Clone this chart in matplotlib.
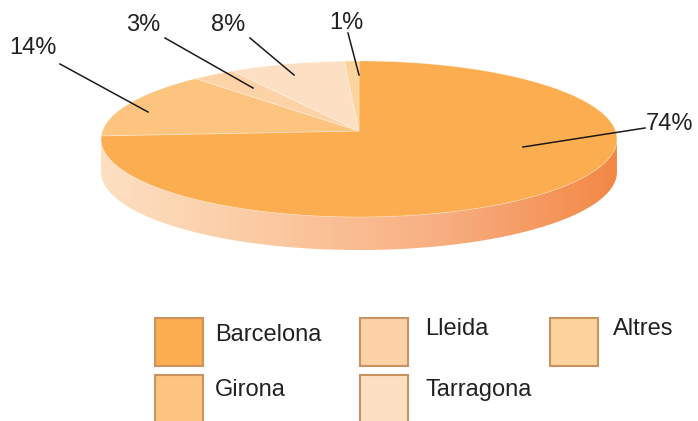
import numpy as np
import matplotlib
matplotlib.use("Agg")
import matplotlib.pyplot as plt
from matplotlib.patches import Polygon, Rectangle
from matplotlib.colors import LinearSegmentedColormap

# data
categories = ["Barcelona", "Girona", "Lleida", "Tarragona", "Altres"]
shares = [74, 14, 3, 8, 1]
labels = ["74%", "14%", "3%", "8%", "1%"]
colors = ["#fbad50", "#fcc47e", "#fdd2a6", "#fde0c3", "#fdd49b"]

plt.rcParams["font.family"] = ["Liberation Sans", "DejaVu Sans"]

fig = plt.figure(figsize=(6.98, 4.21), dpi=100)
ax = fig.add_axes([0, 0, 1, 1])
ax.set_xlim(0, 698)
ax.set_ylim(421, 0)
ax.axis("off")

# pie geometry (pixels), slight perspective: back half is squeezed
cx, cy = 359, 131
rx0, k, e = 256.6, 77.2, 0.1026
depth = 33

def proj(t):
    c, s = np.cos(t), np.sin(t)
    w = 1 + e * s
    return cx + rx0 * c / w, cy - k * s / w

# side wall (visible front), horizontal gradient
tl = np.pi + np.arcsin(e)
tr = 2 * np.pi - np.arcsin(e)
t = np.linspace(tl, tr, 300)
xs, ys = proj(t)
side = np.column_stack([np.r_[xs, xs[::-1]], np.r_[ys, ys[::-1] + depth]])
side_patch = Polygon(side, closed=True, facecolor="none", edgecolor="none")
ax.add_patch(side_patch)
grad = LinearSegmentedColormap.from_list(
    "side", ["#fde0c2", "#fbc9a0", "#f8ae80", "#f38845"])
img = ax.imshow(np.linspace(0, 1, 256)[None, :], cmap=grad, aspect="auto",
                extent=[xs.min(), xs.max(), ys.max() + depth + 2, cy], zorder=1)
img.set_clip_path(side_patch)

# top face slices, clockwise from 12 o'clock
start = 90.0
for share, col in zip(shares, colors):
    end = start - share * 3.6
    tt = np.radians(np.linspace(start, end, 160))
    px, py = proj(tt)
    poly = np.column_stack([np.r_[cx, px], np.r_[cy, py]])
    ax.add_patch(Polygon(poly, closed=True, facecolor=col,
                         edgecolor=(1, 1, 1, 0.35), linewidth=0.6, zorder=2))
    start = end

# leader lines and labels (layout positions)
label_text_xy = [(646, 124), (9, 48), (126, 25), (211, 25), (329, 23)]
line_from = [(523, 147), (148, 112), (253, 88), (294, 75), (359, 75)]
line_to = [(645, 128), (60, 64), (165, 38), (250, 38), (348, 33)]
for lab, txy, p0, p1 in zip(labels, label_text_xy, line_from, line_to):
    ax.plot([p0[0], p1[0]], [p0[1], p1[1]], color="#1a1a1a", lw=1.1, zorder=3)
    ax.text(txy[0], txy[1], lab, fontsize=17, color="#222222",
            ha="left", va="center", zorder=4)

# legend
legend_box = [(155, 318), (155, 375), (360, 318), (360, 375), (550, 318)]
legend_text = [(215, 335), (215, 390), (425, 329), (425, 390), (613, 329)]
for i in range(len(categories)):
    bx, by = legend_box[i]
    ax.add_patch(Rectangle((bx, by), 48, 48, facecolor=colors[i],
                           edgecolor="#c99260", linewidth=1.5, zorder=2))
    ax.text(legend_text[i][0], legend_text[i][1], categories[i], fontsize=17,
            color="#222222", ha="left", va="center")

fig.savefig("out.png", dpi=100)
